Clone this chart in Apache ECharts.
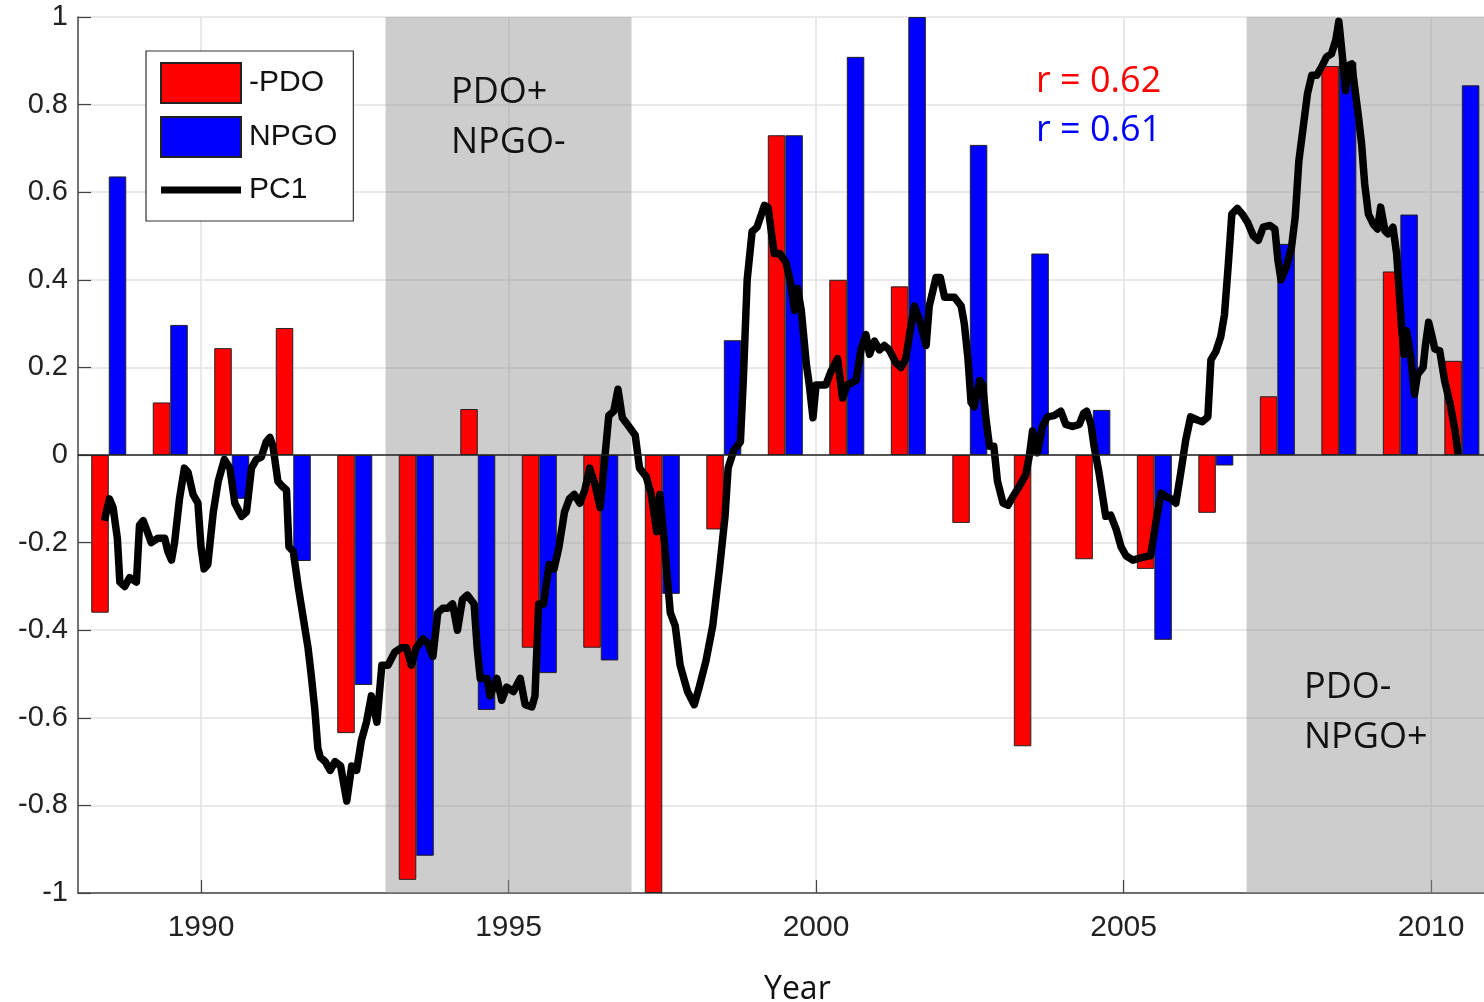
<!DOCTYPE html>
<html>
<head>
<meta charset="utf-8">
<script src="https://cdn.jsdelivr.net/npm/echarts@6/dist/echarts.min.js"></script>
<style>
  html, body { margin: 0; padding: 0; background: #ffffff; }
  #chart { width: 1484px; height: 1002px; }
</style>
</head>
<body>
<div id="chart"></div>
<script>
// Annual index values (bars sit in the middle of each year)
const years = [1988, 1989, 1990, 1991, 1992, 1993, 1994, 1995, 1996, 1997, 1998, 1999,
               2000, 2001, 2002, 2003, 2004, 2005, 2006, 2007, 2008, 2009, 2010];
const negPdo = [-0.36, 0.12, 0.244, 0.29, -0.635, -0.97, 0.105, -0.44, -0.44, -1.0, -0.17, 0.73,
                0.40, 0.385, -0.155, -0.665, -0.238, -0.26, -0.132, 0.134, 0.888, 0.419, 0.215];
const npgo = [0.636, 0.297, -0.10, -0.242, -0.525, -0.915, -0.582, -0.498, -0.469, -0.317, 0.262, 0.73,
              0.909, 1.0, 0.708, 0.46, 0.103, -0.422, -0.024, 0.482, 0.897, 0.549, 0.844];

// Leading principal component, sampled through time (decimal years)
const pc1Time = [
  1988.43, 1988.51, 1988.57, 1988.64, 1988.68, 1988.76, 1988.84, 1988.95, 1989.00, 1989.06,
  1989.14, 1989.19, 1989.30, 1989.41, 1989.46, 1989.52, 1989.57, 1989.65, 1989.73, 1989.79,
  1989.87, 1989.95, 1990.00, 1990.05, 1990.11, 1990.20, 1990.28, 1990.38, 1990.47, 1990.55,
  1990.66, 1990.74, 1990.82, 1990.90, 1990.98, 1991.06, 1991.12, 1991.17, 1991.25, 1991.31,
  1991.39, 1991.43, 1991.50, 1991.58, 1991.66, 1991.74, 1991.79, 1991.85, 1991.90, 1991.94,
  1992.02, 1992.10, 1992.18, 1992.27, 1992.37, 1992.45, 1992.53, 1992.61, 1992.69, 1992.77,
  1992.86, 1992.94, 1993.04, 1993.15, 1993.26, 1993.34, 1993.42, 1993.50, 1993.61, 1993.69,
  1993.77, 1993.85, 1993.93, 1994.01, 1994.09, 1994.17, 1994.25, 1994.33, 1994.44, 1994.49,
  1994.54, 1994.65, 1994.70, 1994.81, 1994.89, 1994.97, 1995.08, 1995.19, 1995.27, 1995.38,
  1995.43, 1995.49, 1995.57, 1995.66, 1995.74, 1995.82, 1995.91, 1995.99, 1996.07, 1996.16,
  1996.24, 1996.32, 1996.41, 1996.49, 1996.57, 1996.63, 1996.71, 1996.78, 1996.85, 1996.93,
  1997.06, 1997.13, 1997.24, 1997.32, 1997.41, 1997.46, 1997.54, 1997.63, 1997.71, 1997.79,
  1997.91, 1998.02, 1998.10, 1998.21, 1998.32, 1998.43, 1998.52, 1998.57, 1998.66, 1998.77,
  1998.82, 1998.88, 1998.96, 1999.04, 1999.16, 1999.22, 1999.32, 1999.41, 1999.51, 1999.59,
  1999.65, 1999.70, 1999.76, 1999.84, 1999.89, 1999.95, 2000.00, 2000.08, 2000.16, 2000.24,
  2000.35, 2000.43, 2000.51, 2000.65, 2000.73, 2000.81, 2000.87, 2000.95, 2001.03, 2001.11,
  2001.19, 2001.30, 2001.38, 2001.46, 2001.52, 2001.60, 2001.68, 2001.79, 2001.84, 2001.95,
  2002.02, 2002.09, 2002.17, 2002.25, 2002.36, 2002.41, 2002.47, 2002.52, 2002.57, 2002.66,
  2002.71, 2002.76, 2002.82, 2002.89, 2002.95, 2003.04, 2003.12, 2003.20, 2003.31, 2003.41,
  2003.47, 2003.52, 2003.60, 2003.68, 2003.76, 2003.87, 2003.98, 2004.06, 2004.17, 2004.28,
  2004.35, 2004.40, 2004.47, 2004.52, 2004.60, 2004.66, 2004.71, 2004.79, 2004.88, 2004.96,
  2005.04, 2005.15, 2005.25, 2005.36, 2005.44, 2005.53, 2005.61, 2005.69, 2005.77, 2005.85,
  2005.93, 2006.01, 2006.09, 2006.20, 2006.28, 2006.37, 2006.42, 2006.50, 2006.58, 2006.64,
  2006.70, 2006.76, 2006.85, 2006.93, 2007.02, 2007.11, 2007.19, 2007.27, 2007.38, 2007.46,
  2007.51, 2007.56, 2007.65, 2007.73, 2007.79, 2007.85, 2007.92, 2007.99, 2008.06, 2008.14,
  2008.22, 2008.30, 2008.38, 2008.45, 2008.50, 2008.53, 2008.57, 2008.61, 2008.65, 2008.71,
  2008.75, 2008.82, 2008.87, 2008.92, 2008.98, 2009.06, 2009.13, 2009.18, 2009.25, 2009.30,
  2009.38, 2009.44, 2009.52, 2009.56, 2009.60, 2009.67, 2009.73, 2009.78, 2009.87, 2009.91,
  2009.96, 2010.02, 2010.06, 2010.14, 2010.22, 2010.31, 2010.39, 2010.44
];
const pc1Value = [
  -0.15, -0.10, -0.12, -0.19, -0.29, -0.30, -0.28, -0.29, -0.16, -0.15,
  -0.18, -0.20, -0.19, -0.19, -0.22, -0.24, -0.20, -0.10, -0.03, -0.04,
  -0.09, -0.11, -0.21, -0.26, -0.25, -0.13, -0.06, -0.01, -0.03, -0.11,
  -0.14, -0.13, -0.03, -0.01, -0.005, 0.03, 0.04, 0.02, -0.06, -0.07,
  -0.08, -0.21, -0.22, -0.30, -0.37, -0.44, -0.50, -0.58, -0.67, -0.69,
  -0.70, -0.72, -0.70, -0.71, -0.79, -0.71, -0.72, -0.65, -0.61, -0.55,
  -0.61, -0.48, -0.48, -0.45, -0.44, -0.44, -0.48, -0.44, -0.42, -0.43,
  -0.46, -0.36, -0.35, -0.35, -0.34, -0.40, -0.33, -0.32, -0.34, -0.44,
  -0.51, -0.51, -0.55, -0.51, -0.56, -0.53, -0.54, -0.51, -0.57, -0.575,
  -0.55, -0.34, -0.34, -0.25, -0.26, -0.21, -0.13, -0.10, -0.09, -0.11,
  -0.08, -0.03, -0.07, -0.12, 0.00, 0.09, 0.10, 0.15, 0.085, 0.07,
  0.045, -0.03, -0.05, -0.09, -0.175, -0.09, -0.21, -0.36, -0.39, -0.48,
  -0.54, -0.57, -0.53, -0.47, -0.39, -0.26, -0.14, -0.03, 0.01, 0.03,
  0.18, 0.40, 0.51, 0.52, 0.57, 0.565, 0.46, 0.46, 0.44, 0.39,
  0.33, 0.38, 0.33, 0.21, 0.16, 0.085, 0.16, 0.16, 0.16, 0.19,
  0.22, 0.13, 0.16, 0.17, 0.24, 0.275, 0.23, 0.26, 0.24, 0.25,
  0.24, 0.21, 0.20, 0.22, 0.275, 0.34, 0.31, 0.25, 0.34, 0.405,
  0.405, 0.36, 0.36, 0.36, 0.34, 0.30, 0.22, 0.12, 0.11, 0.17,
  0.16, 0.085, 0.02, 0.02, -0.06, -0.11, -0.115, -0.095, -0.07, -0.045,
  0.00, 0.055, 0.005, 0.065, 0.087, 0.09, 0.10, 0.07, 0.065, 0.07,
  0.095, 0.10, 0.07, 0.02, -0.04, -0.095, -0.14, -0.137, -0.17, -0.21,
  -0.23, -0.24, -0.236, -0.232, -0.23, -0.15, -0.087, -0.095, -0.10, -0.11,
  -0.04, 0.034, 0.087, 0.08, 0.076, 0.087, 0.217, 0.236, 0.27, 0.32,
  0.43, 0.55, 0.563, 0.55, 0.53, 0.50, 0.49, 0.52, 0.524, 0.516,
  0.444, 0.40, 0.43, 0.474, 0.543, 0.672, 0.748, 0.825, 0.867, 0.867,
  0.886, 0.909, 0.916, 0.947, 0.99, 0.99, 0.893, 0.832, 0.889, 0.893,
  0.848, 0.771, 0.71, 0.619, 0.55, 0.527, 0.516, 0.566, 0.512, 0.505,
  0.52, 0.459, 0.291, 0.23, 0.284, 0.223, 0.139, 0.184, 0.20, 0.253,
  0.303, 0.268, 0.242, 0.238, 0.169, 0.116, 0.055, 0.00
];

// Axis layout values
const yearTicks = [1990, 1995, 2000, 2005, 2010];
const xRange = [1988, 2010.86];
// Phase periods shaded in grey: [start, end]
const shadedPeriods = [[1993, 1997], [2007, 2010.86]];

const AXIS_FONT = 'Liberation Sans, Arial, sans-serif';
const NOTE_FONT = 'Open Sans, sans-serif';

// Thick horizontal stroke used as the PC1 legend key (tiny corner dots keep the 80x40 box)
const LINE_KEY = 'path://M0,0h0.05v0.05h-0.05z M79.95,39.95h0.05v0.05h-0.05z M0,16.5h80v7h-80z';

const chart = echarts.init(document.getElementById('chart'), null, { renderer: 'canvas' });

const noteText = (text, x, y, color, size) => ({
  type: 'text',
  x: x,
  y: y,
  style: {
    text: text,
    fill: color,
    font: (size || 36) + 'px ' + NOTE_FONT,
    align: 'left',
    verticalAlign: 'middle'
  },
  z: 100
});

chart.setOption({
  animation: false,
  backgroundColor: '#ffffff',
  grid: { left: 78, right: 0, top: 17, bottom: 109 },
  legend: {
    orient: 'vertical',
    left: 146,
    top: 51,
    padding: [11, 16, 11, 14],
    itemGap: 12,
    itemWidth: 80,
    itemHeight: 40,
    backgroundColor: '#ffffff',
    borderColor: '#333333',
    borderWidth: 1.2,
    selectedMode: false,
    textStyle: { fontSize: 30, fontFamily: AXIS_FONT, color: '#111111', padding: [0, 0, 0, 3] },
    data: [
      { name: '-PDO', icon: 'rect' },
      { name: 'NPGO', icon: 'rect' },
      { name: 'PC1', icon: LINE_KEY, itemStyle: { color: '#000000', borderWidth: 0 } }
    ]
  },
  xAxis: {
    type: 'value',
    min: xRange[0],
    max: xRange[1],
    position: 'bottom',
    axisLine: { show: true, onZero: false, lineStyle: { color: '#444444', width: 1.5 } },
    axisTick: { show: true, inside: true, length: 13, customValues: yearTicks,
                lineStyle: { color: '#444444', width: 1.2 } },
    axisLabel: { customValues: yearTicks, fontSize: 30, fontFamily: AXIS_FONT, color: '#222222',
                 margin: 20, formatter: v => String(v) },
    splitLine: { show: true, lineStyle: { color: '#e2e2e2', width: 1.5 } }
  },
  yAxis: {
    type: 'value',
    min: -1,
    max: 1,
    interval: 0.2,
    axisLine: { show: true, lineStyle: { color: '#444444', width: 1.5 } },
    axisTick: { show: true, inside: true, length: 13, lineStyle: { color: '#444444', width: 1.2 } },
    axisLabel: { fontSize: 29, fontFamily: AXIS_FONT, color: '#222222', margin: 10,
                 formatter: v => String(Math.round(v * 10) / 10) },
    splitLine: { show: true, lineStyle: { color: '#e2e2e2', width: 1.5 } }
  },
  series: [
    {
      name: 'phases',
      type: 'line',
      data: [],
      z: 1,
      silent: true,
      markArea: {
        silent: true,
        itemStyle: { color: 'rgba(150,150,150,0.48)' },
        data: shadedPeriods.map(([a, b]) => [{ xAxis: a }, { xAxis: b }])
      }
    },
    {
      name: '-PDO',
      type: 'bar',
      z: 2,
      barWidth: 17.5,
      barGap: '0%',
      itemStyle: { color: '#ff0000', borderColor: '#222222', borderWidth: 1 },
      data: years.map((y, i) => [y + 0.5, negPdo[i]])
    },
    {
      name: 'NPGO',
      type: 'bar',
      z: 2,
      barWidth: 17.5,
      barGap: '0%',
      itemStyle: { color: '#0000ff', borderColor: '#222222', borderWidth: 1 },
      data: years.map((y, i) => [y + 0.5, npgo[i]]),
      markLine: {
        silent: true,
        symbol: ['none', 'none'],
        label: { show: false },
        lineStyle: { color: '#222222', width: 1.5, type: 'solid' },
        data: [{ yAxis: 0 }]
      }
    },
    {
      name: 'PC1',
      type: 'line',
      z: 3,
      showSymbol: false,
      symbol: 'none',
      lineStyle: { color: '#000000', width: 7.5, join: 'round' },
      itemStyle: { color: '#000000' },
      data: pc1Time.map((t, i) => [t, pc1Value[i]])
    }
  ],
  graphic: [
    noteText('PDO+', 451, 93, '#111111'),
    noteText('NPGO-', 451, 143, '#111111'),
    noteText('r = 0.62', 1036, 82, '#ff0000'),
    noteText('r = 0.61', 1036, 131, '#0000ff'),
    noteText('PDO-', 1304, 688, '#111111'),
    noteText('NPGO+', 1304, 738, '#111111'),
    noteText('Year', 764, 990, '#111111', 32)
  ]
});
</script>
</body>
</html>
